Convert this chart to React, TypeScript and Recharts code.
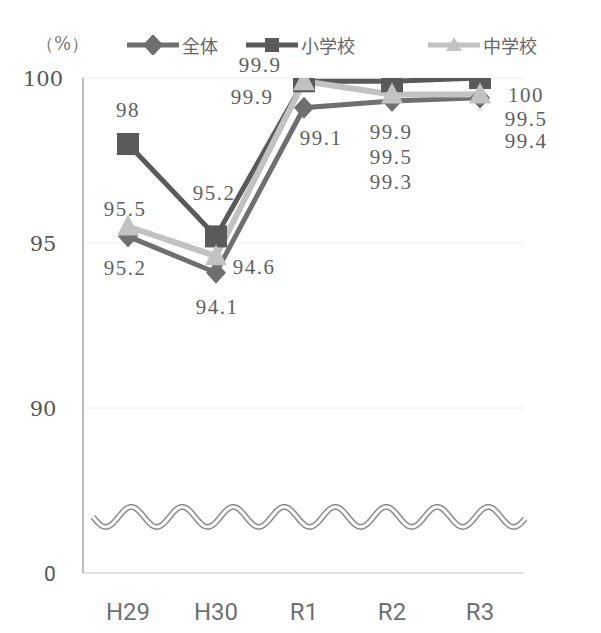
import React from "react";
import { LineChart, Line, XAxis, YAxis, CartesianGrid, LabelList, ReferenceLine } from "recharts";

const categories = ["H29", "H30", "R1", "R2", "R3"];
const overall = [95.2, 94.1, 99.1, 99.3, 99.4];
const elementary = [98, 95.2, 99.9, 99.9, 100];
const juniorHigh = [95.5, 94.6, 99.9, 99.5, 99.5];
// the axis is broken: the bottom tick stands for 0
const yTicks = [85, 90, 95, 100];
const yTickLabels = ["0", "90", "95", "100"];
const seriesNames = ["全体", "小学校", "中学校"];

const data = categories.map((c, i) => ({
  name: c,
  overall: overall[i],
  elementary: elementary[i],
  juniorHigh: juniorHigh[i],
}));

// hand placed label offsets (like the original)
const elemOffsets = [[0, -34], [-2, -43], [-44, -16], [-1, 51], [46, 17]];
const juniorOffsets = [[-3, -18], [38, 11], [-52, 16], [-1, 62], [46, 24]];
const overallOffsets = [[-3, 32], [1, 34], [17, 30], [-1, 81], [46, 43]];

const COLORS = { overall: "#6f6f6f", elementary: "#5a5a5a", juniorHigh: "#c2c2c2" };
const SERIF_A = "Liberation Serif";
const SERIF_B = "DejaVu Serif";

const makeLabel = (offsets: number[][]) => (props: any) => {
  const { x, y, value, index } = props;
  const [dx, dy] = offsets[index];
  return (
    <text
      x={x + dx}
      y={y + dy + 7}
      textAnchor="middle"
      fontFamily={SERIF_A}
      fontSize={21}
      letterSpacing={1.5}
      fill="#5f5f5f"
    >
      {value}
    </text>
  );
};

const Square = ({ cx, cy, fill }: any) => (
  <rect x={cx - 11} y={cy - 11} width={22} height={22} fill={fill} />
);
const Diamond = ({ cx, cy, fill }: any) => (
  <path d={`M${cx},${cy - 11}L${cx + 10},${cy}L${cx},${cy + 11}L${cx - 10},${cy}Z`} fill={fill} />
);
const Triangle = ({ cx, cy, fill }: any) => (
  <path d={`M${cx},${cy - 12}L${cx + 11},${cy + 9}L${cx - 11},${cy + 9}Z`} fill={fill} />
);

const WaveBreak = (props: any) => {
  const { x1, x2, y1 } = props;
  const start = x1 + 10;
  const end = x2 + 1;
  const pts: string[] = [];
  for (let x = start; x <= end; x += 1) {
    const y = y1 + 10 * Math.sin(((x - start) / 51) * Math.PI * 2);
    pts.push(`${x},${y.toFixed(2)}`);
  }
  const d = "M" + pts.join("L");
  return (
    <g>
      <path d={d} fill="none" stroke="#8a8a8a" strokeWidth={6} />
      <path d={d} fill="none" stroke="#ffffff" strokeWidth={3} />
    </g>
  );
};

const YTick = (props: any) => {
  const { y, payload } = props;
  const label = yTickLabels[yTicks.indexOf(payload.value)];
  const isZero = label === "0";
  return (
    <text
      x={isZero ? 50 : 43}
      y={y + 8}
      textAnchor="middle"
      fontFamily={isZero ? "Roboto" : SERIF_B}
      fontSize={21}
      fill="#555"
    >
      {label}
    </text>
  );
};

const XTick = (props: any) => {
  const { x, y, payload } = props;
  return (
    <text x={x} y={y + 39} textAnchor="middle" fontFamily="Roboto" fontSize={24} fill="#707070">
      {payload.value}
    </text>
  );
};

const LegendMark = ({ color, kind }: { color: string; kind: string }) => (
  <svg width={52} height={20} style={{ verticalAlign: "middle" }}>
    <line x1={0} y1={10} x2={52} y2={10} stroke={color} strokeWidth={5} />
    {kind === "diamond" && <Diamond cx={26} cy={10} fill={color} />}
    {kind === "square" && <rect x={19} y={3} width={14} height={14} fill={color} />}
    {kind === "triangle" && <path d="M26,2L34,16L18,16Z" fill={color} />}
  </svg>
);

export default function App() {
  const legendText: React.CSSProperties = {
    fontFamily: "Noto Sans CJK JP, sans-serif",
    fontSize: 18,
    color: "#666",
    marginLeft: 3,
    verticalAlign: "middle",
  };
  return (
    <div style={{ position: "absolute", left: 0, top: 0, width: 601, height: 633, background: "#fff" }}>
      <div style={{ position: "absolute", left: 36, top: 32, fontFamily: SERIF_B, fontSize: 18, color: "#777" }}>
        （%）
      </div>
      <div style={{ position: "absolute", left: 127, top: 32, whiteSpace: "nowrap" }}>
        <LegendMark color={COLORS.overall} kind="diamond" />
        <span style={legendText}>{seriesNames[0]}</span>
      </div>
      <div style={{ position: "absolute", left: 246, top: 32, whiteSpace: "nowrap" }}>
        <LegendMark color={COLORS.elementary} kind="square" />
        <span style={legendText}>{seriesNames[1]}</span>
      </div>
      <div style={{ position: "absolute", left: 428, top: 32, whiteSpace: "nowrap" }}>
        <LegendMark color={COLORS.juniorHigh} kind="triangle" />
        <span style={legendText}>{seriesNames[2]}</span>
      </div>
      <LineChart
        width={601}
        height={633}
        data={data}
        margin={{ top: 78, right: 77, bottom: 0, left: 0 }}
      >
        <CartesianGrid vertical={false} stroke="#ececec" />
        <XAxis
          dataKey="name"
          height={60}
          tickLine={false}
          axisLine={{ stroke: "#cfcfcf" }}
          tick={<XTick />}
          interval={0}
          padding={{ left: 45, right: 44 }}
        />
        <YAxis
          width={83}
          domain={[85, 100]}
          ticks={yTicks}
          type="number"
          allowDataOverflow
          tickLine={false}
          axisLine={{ stroke: "#7a7a7a" }}
          tick={<YTick />}
        />
        <ReferenceLine y={86.7} shape={<WaveBreak />} />
        <Line
          dataKey="elementary"
          name={seriesNames[1]}
          stroke={COLORS.elementary}
          strokeWidth={5}
          isAnimationActive={false}
          dot={(p: any) => <Square key={p.index} cx={p.cx} cy={p.cy} fill={COLORS.elementary} />}
        >
          <LabelList dataKey="elementary" content={makeLabel(elemOffsets)} />
        </Line>
        <Line
          dataKey="overall"
          name={seriesNames[0]}
          stroke={COLORS.overall}
          strokeWidth={5}
          isAnimationActive={false}
          dot={(p: any) => <Diamond key={p.index} cx={p.cx} cy={p.cy} fill={COLORS.overall} />}
        >
          <LabelList dataKey="overall" content={makeLabel(overallOffsets)} />
        </Line>
        <Line
          dataKey="juniorHigh"
          name={seriesNames[2]}
          stroke={COLORS.juniorHigh}
          strokeWidth={6}
          isAnimationActive={false}
          dot={(p: any) => <Triangle key={p.index} cx={p.cx} cy={p.cy} fill={COLORS.juniorHigh} />}
        >
          <LabelList dataKey="juniorHigh" content={makeLabel(juniorOffsets)} />
        </Line>
      </LineChart>
    </div>
  );
}
